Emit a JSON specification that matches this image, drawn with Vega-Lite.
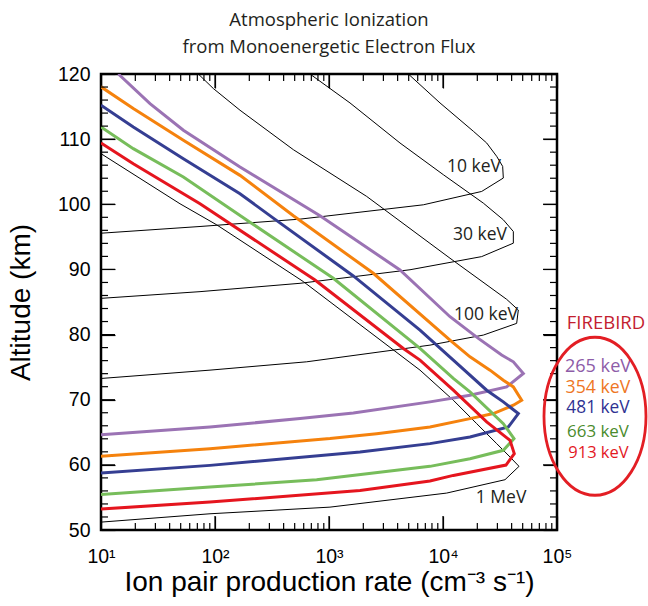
{
  "$schema": "https://vega.github.io/schema/vega-lite/v6.json",
  "width": 456,
  "height": 456,
  "autosize": {"type": "none"},
  "padding": {"left": 101, "top": 74, "right": 91, "bottom": 76},
  "background": "white",
  "title": {
    "text": ["Atmospheric Ionization", "from Monoenergetic Electron Flux"],
    "font": "Open Sans",
    "fontSize": 18.5,
    "fontWeight": "normal",
    "color": "#231f20",
    "anchor": "middle",
    "frame": "group",
    "lineHeight": 27,
    "baseline": "bottom",
    "offset": -11
  },
  "config": {
    "view": {"stroke": "black", "strokeWidth": 2.5},
    "axis": {"domain": false, "grid": false, "ticks": true, "tickColor": "black", "tickOpacity": 1, "tickWidth": 1.2, "labelFlush": false, "labelOverlap": false},
    "tick": {"color": "black", "thickness": 1.2, "opacity": 1}
  },
  "datasets": {
    "black": [
      {"curve": "10 keV", "rate": 4965, "alt": 120},
      {"curve": "10 keV", "rate": 9410, "alt": 115.56},
      {"curve": "10 keV", "rate": 18460, "alt": 111.21},
      {"curve": "10 keV", "rate": 24160, "alt": 109.41},
      {"curve": "10 keV", "rate": 29570, "alt": 107.36},
      {"curve": "10 keV", "rate": 33370, "alt": 105.82},
      {"curve": "10 keV", "rate": 33820, "alt": 104.03},
      {"curve": "10 keV", "rate": 21840, "alt": 101.97},
      {"curve": "10 keV", "rate": 6720, "alt": 99.92},
      {"curve": "10 keV", "rate": 557, "alt": 97.72},
      {"curve": "10 keV", "rate": 73.9, "alt": 96.59},
      {"curve": "10 keV", "rate": 10, "alt": 95.56},
      {"curve": "30 keV", "rate": 681, "alt": 120},
      {"curve": "30 keV", "rate": 1528, "alt": 115.56},
      {"curve": "30 keV", "rate": 4195, "alt": 109.41},
      {"curve": "30 keV", "rate": 10070, "alt": 104.54},
      {"curve": "30 keV", "rate": 22580, "alt": 100.18},
      {"curve": "30 keV", "rate": 33820, "alt": 97.62},
      {"curve": "30 keV", "rate": 41400, "alt": 95.82},
      {"curve": "30 keV", "rate": 41400, "alt": 94.03},
      {"curve": "30 keV", "rate": 21840, "alt": 91.97},
      {"curve": "30 keV", "rate": 5135, "alt": 89.95},
      {"curve": "30 keV", "rate": 557, "alt": 87.87},
      {"curve": "30 keV", "rate": 73.9, "alt": 86.59},
      {"curve": "30 keV", "rate": 10, "alt": 85.56},
      {"curve": "100 keV", "rate": 71.4, "alt": 120},
      {"curve": "100 keV", "rate": 96.7, "alt": 117.77},
      {"curve": "100 keV", "rate": 165.7, "alt": 114.44},
      {"curve": "100 keV", "rate": 487, "alt": 108.38},
      {"curve": "100 keV", "rate": 2140, "alt": 101.21},
      {"curve": "100 keV", "rate": 11520, "alt": 91.72},
      {"curve": "100 keV", "rate": 21120, "alt": 88.38},
      {"curve": "100 keV", "rate": 36180, "alt": 85.41},
      {"curve": "100 keV", "rate": 45790, "alt": 83.77},
      {"curve": "100 keV", "rate": 44280, "alt": 81.72},
      {"curve": "100 keV", "rate": 22580, "alt": 79.92},
      {"curve": "100 keV", "rate": 7690, "alt": 78.38},
      {"curve": "100 keV", "rate": 637, "alt": 75.82},
      {"curve": "100 keV", "rate": 90.4, "alt": 74.54},
      {"curve": "100 keV", "rate": 10, "alt": 73.26},
      {"curve": "1 MeV", "rate": 10, "alt": 107.77},
      {"curve": "1 MeV", "rate": 49.3, "alt": 100.08},
      {"curve": "1 MeV", "rate": 103.4, "alt": 96.85},
      {"curve": "1 MeV", "rate": 596, "alt": 88.13},
      {"curve": "1 MeV", "rate": 3430, "alt": 78.03},
      {"curve": "1 MeV", "rate": 6285, "alt": 74.54},
      {"curve": "1 MeV", "rate": 12320, "alt": 69.92},
      {"curve": "1 MeV", "rate": 19740, "alt": 66.33},
      {"curve": "1 MeV", "rate": 29570, "alt": 63.26},
      {"curve": "1 MeV", "rate": 38700, "alt": 61.21},
      {"curve": "1 MeV", "rate": 46420, "alt": 59.77},
      {"curve": "1 MeV", "rate": 34990, "alt": 57.72},
      {"curve": "1 MeV", "rate": 10770, "alt": 55.67},
      {"curve": "1 MeV", "rate": 1020, "alt": 53.51},
      {"curve": "1 MeV", "rate": 90.4, "alt": 52.49},
      {"curve": "1 MeV", "rate": 10, "alt": 51.21}
    ],
    "firebird": [
      {"curve": "265 keV", "rate": 14.2, "alt": 120},
      {"curve": "265 keV", "rate": 26.9, "alt": 115.46},
      {"curve": "265 keV", "rate": 52.8, "alt": 111.36},
      {"curve": "265 keV", "rate": 165.7, "alt": 105.72},
      {"curve": "265 keV", "rate": 834, "alt": 98.23},
      {"curve": "265 keV", "rate": 4195, "alt": 89.92},
      {"curve": "265 keV", "rate": 11520, "alt": 82.74},
      {"curve": "265 keV", "rate": 20420, "alt": 79.41},
      {"curve": "265 keV", "rate": 32700, "alt": 76.85},
      {"curve": "265 keV", "rate": 41400, "alt": 75.82},
      {"curve": "265 keV", "rate": 50660, "alt": 74.03},
      {"curve": "265 keV", "rate": 36180, "alt": 71.97},
      {"curve": "265 keV", "rate": 17250, "alt": 70.69},
      {"curve": "265 keV", "rate": 7690, "alt": 69.67},
      {"curve": "265 keV", "rate": 1635, "alt": 67.97},
      {"curve": "265 keV", "rate": 557, "alt": 67.1},
      {"curve": "265 keV", "rate": 90.4, "alt": 65.82},
      {"curve": "265 keV", "rate": 10, "alt": 64.64},
      {"curve": "354 keV", "rate": 10, "alt": 118.03},
      {"curve": "354 keV", "rate": 19.2, "alt": 114.69},
      {"curve": "354 keV", "rate": 52.8, "alt": 109.82},
      {"curve": "354 keV", "rate": 165.7, "alt": 104.44},
      {"curve": "354 keV", "rate": 487, "alt": 98.23},
      {"curve": "354 keV", "rate": 2448, "alt": 89.41},
      {"curve": "354 keV", "rate": 11520, "alt": 79.15},
      {"curve": "354 keV", "rate": 17250, "alt": 76.59},
      {"curve": "354 keV", "rate": 25840, "alt": 74.54},
      {"curve": "354 keV", "rate": 33820, "alt": 73.0},
      {"curve": "354 keV", "rate": 41400, "alt": 71.97},
      {"curve": "354 keV", "rate": 48990, "alt": 69.92},
      {"curve": "354 keV", "rate": 41400, "alt": 69.15},
      {"curve": "354 keV", "rate": 27640, "alt": 67.87},
      {"curve": "354 keV", "rate": 17250, "alt": 67.1},
      {"curve": "354 keV", "rate": 7690, "alt": 65.82},
      {"curve": "354 keV", "rate": 2620, "alt": 64.79},
      {"curve": "354 keV", "rate": 1020, "alt": 64.03},
      {"curve": "354 keV", "rate": 90.4, "alt": 62.49},
      {"curve": "354 keV", "rate": 10, "alt": 61.31},
      {"curve": "481 keV", "rate": 10, "alt": 115.21},
      {"curve": "481 keV", "rate": 19.2, "alt": 111.87},
      {"curve": "481 keV", "rate": 52.8, "alt": 107.0},
      {"curve": "481 keV", "rate": 165.7, "alt": 101.62},
      {"curve": "481 keV", "rate": 325, "alt": 97.87},
      {"curve": "481 keV", "rate": 1635, "alt": 89.0},
      {"curve": "481 keV", "rate": 6285, "alt": 80.69},
      {"curve": "481 keV", "rate": 12320, "alt": 76.08},
      {"curve": "481 keV", "rate": 24160, "alt": 71.46},
      {"curve": "481 keV", "rate": 33820, "alt": 69.67},
      {"curve": "481 keV", "rate": 45790, "alt": 67.87},
      {"curve": "481 keV", "rate": 37420, "alt": 65.82},
      {"curve": "481 keV", "rate": 17250, "alt": 64.28},
      {"curve": "481 keV", "rate": 7690, "alt": 63.26},
      {"curve": "481 keV", "rate": 1870, "alt": 61.97},
      {"curve": "481 keV", "rate": 90.4, "alt": 59.92},
      {"curve": "481 keV", "rate": 10, "alt": 58.74},
      {"curve": "663 keV", "rate": 10, "alt": 111.87},
      {"curve": "663 keV", "rate": 19.2, "alt": 108.54},
      {"curve": "663 keV", "rate": 52.8, "alt": 104.18},
      {"curve": "663 keV", "rate": 202.8, "alt": 97.26},
      {"curve": "663 keV", "rate": 1091, "alt": 88.64},
      {"curve": "663 keV", "rate": 6285, "alt": 77.87},
      {"curve": "663 keV", "rate": 12320, "alt": 73.26},
      {"curve": "663 keV", "rate": 17250, "alt": 71.21},
      {"curve": "663 keV", "rate": 33820, "alt": 66.33},
      {"curve": "663 keV", "rate": 41960, "alt": 64.03},
      {"curve": "663 keV", "rate": 33820, "alt": 62.23},
      {"curve": "663 keV", "rate": 17250, "alt": 60.95},
      {"curve": "663 keV", "rate": 7690, "alt": 59.77},
      {"curve": "663 keV", "rate": 779, "alt": 57.72},
      {"curve": "663 keV", "rate": 90.4, "alt": 56.59},
      {"curve": "663 keV", "rate": 10, "alt": 55.46},
      {"curve": "913 keV", "rate": 10, "alt": 109.41},
      {"curve": "913 keV", "rate": 19.2, "alt": 106.23},
      {"curve": "913 keV", "rate": 73.9, "alt": 100.08},
      {"curve": "913 keV", "rate": 754, "alt": 88.38},
      {"curve": "913 keV", "rate": 4487, "alt": 77.87},
      {"curve": "913 keV", "rate": 6285, "alt": 76.08},
      {"curve": "913 keV", "rate": 12320, "alt": 71.46},
      {"curve": "913 keV", "rate": 24160, "alt": 66.59},
      {"curve": "913 keV", "rate": 38700, "alt": 63.77},
      {"curve": "913 keV", "rate": 42200, "alt": 61.72},
      {"curve": "913 keV", "rate": 35690, "alt": 59.97},
      {"curve": "913 keV", "rate": 12320, "alt": 58.38},
      {"curve": "913 keV", "rate": 7690, "alt": 57.51},
      {"curve": "913 keV", "rate": 1870, "alt": 56.08},
      {"curve": "913 keV", "rate": 90.4, "alt": 54.28},
      {"curve": "913 keV", "rate": 10, "alt": 53.21}
    ],
    "curveLabels": [
      {"label": "10 keV", "rate": 18700, "alt": 105.8},
      {"label": "30 keV", "rate": 21100, "alt": 95.3},
      {"label": "100 keV", "rate": 23800, "alt": 83.0},
      {"label": "1 MeV", "rate": 32300, "alt": 54.85}
    ],
    "legend": [
      {"label": "FIREBIRD", "rate": 269000, "alt": 81.77},
      {"label": "265 keV", "rate": 228800, "alt": 75.0},
      {"label": "354 keV", "rate": 228800, "alt": 71.77},
      {"label": "481 keV", "rate": 228800, "alt": 68.69},
      {"label": "663 keV", "rate": 228800, "alt": 65.05},
      {"label": "913 keV", "rate": 231000, "alt": 61.77}
    ],
    "ring": [
      {"name": "FIREBIRD energies", "rate": 215400, "alt": 67.46}
    ],
    "xMajorTicks": [
      {"rate": 100, "alt": 50}, {"rate": 1000, "alt": 50}, {"rate": 10000, "alt": 50},
      {"rate": 100, "alt": 120}, {"rate": 1000, "alt": 120}, {"rate": 10000, "alt": 120}
    ],
    "xMinorTicks": [
      {"rate": 20, "alt": 50}, {"rate": 30, "alt": 50}, {"rate": 40, "alt": 50}, {"rate": 50, "alt": 50}, {"rate": 60, "alt": 50}, {"rate": 70, "alt": 50}, {"rate": 80, "alt": 50}, {"rate": 90, "alt": 50},
      {"rate": 200, "alt": 50}, {"rate": 300, "alt": 50}, {"rate": 400, "alt": 50}, {"rate": 500, "alt": 50}, {"rate": 600, "alt": 50}, {"rate": 700, "alt": 50}, {"rate": 800, "alt": 50}, {"rate": 900, "alt": 50},
      {"rate": 2000, "alt": 50}, {"rate": 3000, "alt": 50}, {"rate": 4000, "alt": 50}, {"rate": 5000, "alt": 50}, {"rate": 6000, "alt": 50}, {"rate": 7000, "alt": 50}, {"rate": 8000, "alt": 50}, {"rate": 9000, "alt": 50},
      {"rate": 20000, "alt": 50}, {"rate": 30000, "alt": 50}, {"rate": 40000, "alt": 50}, {"rate": 50000, "alt": 50}, {"rate": 60000, "alt": 50}, {"rate": 70000, "alt": 50}, {"rate": 80000, "alt": 50}, {"rate": 90000, "alt": 50},
      {"rate": 20, "alt": 120}, {"rate": 30, "alt": 120}, {"rate": 40, "alt": 120}, {"rate": 50, "alt": 120}, {"rate": 60, "alt": 120}, {"rate": 70, "alt": 120}, {"rate": 80, "alt": 120}, {"rate": 90, "alt": 120},
      {"rate": 200, "alt": 120}, {"rate": 300, "alt": 120}, {"rate": 400, "alt": 120}, {"rate": 500, "alt": 120}, {"rate": 600, "alt": 120}, {"rate": 700, "alt": 120}, {"rate": 800, "alt": 120}, {"rate": 900, "alt": 120},
      {"rate": 2000, "alt": 120}, {"rate": 3000, "alt": 120}, {"rate": 4000, "alt": 120}, {"rate": 5000, "alt": 120}, {"rate": 6000, "alt": 120}, {"rate": 7000, "alt": 120}, {"rate": 8000, "alt": 120}, {"rate": 9000, "alt": 120},
      {"rate": 20000, "alt": 120}, {"rate": 30000, "alt": 120}, {"rate": 40000, "alt": 120}, {"rate": 50000, "alt": 120}, {"rate": 60000, "alt": 120}, {"rate": 70000, "alt": 120}, {"rate": 80000, "alt": 120}, {"rate": 90000, "alt": 120}
    ],
    "yMajorTicks": [
      {"rate": 10, "alt": 60}, {"rate": 10, "alt": 70}, {"rate": 10, "alt": 80}, {"rate": 10, "alt": 90}, {"rate": 10, "alt": 100}, {"rate": 10, "alt": 110},
      {"rate": 100000, "alt": 60}, {"rate": 100000, "alt": 70}, {"rate": 100000, "alt": 80}, {"rate": 100000, "alt": 90}, {"rate": 100000, "alt": 100}, {"rate": 100000, "alt": 110}
    ],
    "yMinorTicks": [
      {"rate": 10, "alt": 52}, {"rate": 10, "alt": 54}, {"rate": 10, "alt": 56}, {"rate": 10, "alt": 58}, {"rate": 10, "alt": 62}, {"rate": 10, "alt": 64}, {"rate": 10, "alt": 66}, {"rate": 10, "alt": 68},
      {"rate": 10, "alt": 72}, {"rate": 10, "alt": 74}, {"rate": 10, "alt": 76}, {"rate": 10, "alt": 78}, {"rate": 10, "alt": 82}, {"rate": 10, "alt": 84}, {"rate": 10, "alt": 86}, {"rate": 10, "alt": 88},
      {"rate": 10, "alt": 92}, {"rate": 10, "alt": 94}, {"rate": 10, "alt": 96}, {"rate": 10, "alt": 98}, {"rate": 10, "alt": 102}, {"rate": 10, "alt": 104}, {"rate": 10, "alt": 106}, {"rate": 10, "alt": 108},
      {"rate": 10, "alt": 112}, {"rate": 10, "alt": 114}, {"rate": 10, "alt": 116}, {"rate": 10, "alt": 118},
      {"rate": 100000, "alt": 52}, {"rate": 100000, "alt": 54}, {"rate": 100000, "alt": 56}, {"rate": 100000, "alt": 58}, {"rate": 100000, "alt": 62}, {"rate": 100000, "alt": 64}, {"rate": 100000, "alt": 66}, {"rate": 100000, "alt": 68},
      {"rate": 100000, "alt": 72}, {"rate": 100000, "alt": 74}, {"rate": 100000, "alt": 76}, {"rate": 100000, "alt": 78}, {"rate": 100000, "alt": 82}, {"rate": 100000, "alt": 84}, {"rate": 100000, "alt": 86}, {"rate": 100000, "alt": 88},
      {"rate": 100000, "alt": 92}, {"rate": 100000, "alt": 94}, {"rate": 100000, "alt": 96}, {"rate": 100000, "alt": 98}, {"rate": 100000, "alt": 102}, {"rate": 100000, "alt": 104}, {"rate": 100000, "alt": 106}, {"rate": 100000, "alt": 108},
      {"rate": 100000, "alt": 112}, {"rate": 100000, "alt": 114}, {"rate": 100000, "alt": 116}, {"rate": 100000, "alt": 118}
    ]
  },
  "resolve": {"axis": {"x": "independent", "y": "independent"}, "scale": {"color": "independent", "size": "independent"}},
  "layer": [
    {
      "data": {"name": "black"},
      "mark": {"type": "line", "color": "black", "strokeWidth": 1, "clip": true},
      "encoding": {
        "x": {
          "field": "rate", "type": "quantitative",
          "scale": {"type": "log", "domain": [10, 100000], "nice": false},
          "axis": {
            "orient": "bottom",
            "offset": -14,
            "values": [10, 100, 1000, 10000, 100000],
            "tickSize": 14,
            "labelExpr": "'10' + ['⁰','¹','²','³','⁴','⁵'][round(log(datum.value)/LN10)]",
            "labelFont": "Liberation Sans",
            "labelFontSize": 19.5,
            "labelColor": "black",
            "labelPadding": 17,
            "title": "Ion pair production rate (cm⁻³ s⁻¹)",
            "titleFont": "Liberation Sans",
            "titleFontSize": 28,
            "titleFontWeight": "normal",
            "titleColor": "black",
            "titlePadding": 3
          }
        },
        "y": {
          "field": "alt", "type": "quantitative",
          "scale": {"domain": [50, 120], "nice": false, "zero": false},
          "axis": {
            "orient": "left",
            "offset": -14,
            "values": [50, 60, 70, 80, 90, 100, 110, 120],
            "tickSize": 14,
            "labelFont": "Liberation Sans",
            "labelFontSize": 19.5,
            "labelColor": "black",
            "labelPadding": 11,
            "title": "Altitude (km)",
            "titleFont": "Liberation Sans",
            "titleFontSize": 28,
            "titleFontWeight": "normal",
            "titleColor": "black",
            "titlePadding": 22
          }
        },
        "detail": {"field": "curve"},
        "order": {"field": "alt", "sort": "descending"}
      }
    },
    {
      "data": {"name": "firebird"},
      "mark": {"type": "line", "strokeWidth": 3, "clip": true},
      "encoding": {
        "x": {
          "field": "rate", "type": "quantitative",
          "scale": {"type": "log", "domain": [10, 100000], "nice": false},
          "axis": {
            "orient": "top",
            "offset": -14,
            "values": [10, 100, 1000, 10000, 100000],
            "tickSize": 14,
            "labels": false,
            "title": null
          }
        },
        "y": {
          "field": "alt", "type": "quantitative",
          "scale": {"domain": [50, 120], "nice": false, "zero": false},
          "axis": {
            "orient": "right",
            "offset": -14,
            "values": [50, 60, 70, 80, 90, 100, 110, 120],
            "tickSize": 14,
            "labels": false,
            "title": null
          }
        },
        "color": {
          "field": "curve", "type": "nominal",
          "scale": {"domain": ["265 keV", "354 keV", "481 keV", "663 keV", "913 keV"], "range": ["#9b73b4", "#f5820d", "#353e92", "#77bd5b", "#e5151e"]},
          "legend": null
        },
        "order": {"field": "alt", "sort": "descending"}
      }
    },
    {
      "data": {"name": "xMajorTicks"},
      "transform": [{"filter": "datum.alt == 50"}],
      "mark": {"type": "tick", "orient": "vertical", "size": 14, "yOffset": -7},
      "encoding": {
        "x": {"field": "rate", "type": "quantitative", "axis": null},
        "y": {"field": "alt", "type": "quantitative", "axis": null}
      }
    },
    {
      "data": {"name": "xMajorTicks"},
      "transform": [{"filter": "datum.alt == 120"}],
      "mark": {"type": "tick", "orient": "vertical", "size": 14, "yOffset": 7},
      "encoding": {
        "x": {"field": "rate", "type": "quantitative", "axis": null},
        "y": {"field": "alt", "type": "quantitative", "axis": null}
      }
    },
    {
      "data": {"name": "xMinorTicks"},
      "transform": [{"filter": "datum.alt == 50"}],
      "mark": {"type": "tick", "orient": "vertical", "size": 7, "yOffset": -3.5},
      "encoding": {
        "x": {"field": "rate", "type": "quantitative", "axis": null},
        "y": {"field": "alt", "type": "quantitative", "axis": null}
      }
    },
    {
      "data": {"name": "xMinorTicks"},
      "transform": [{"filter": "datum.alt == 120"}],
      "mark": {"type": "tick", "orient": "vertical", "size": 7, "yOffset": 3.5},
      "encoding": {
        "x": {"field": "rate", "type": "quantitative", "axis": null},
        "y": {"field": "alt", "type": "quantitative", "axis": null}
      }
    },
    {
      "data": {"name": "yMajorTicks"},
      "transform": [{"filter": "datum.rate == 10"}],
      "mark": {"type": "tick", "orient": "horizontal", "size": 14, "xOffset": 7},
      "encoding": {
        "x": {"field": "rate", "type": "quantitative", "axis": null},
        "y": {"field": "alt", "type": "quantitative", "axis": null}
      }
    },
    {
      "data": {"name": "yMajorTicks"},
      "transform": [{"filter": "datum.rate == 100000"}],
      "mark": {"type": "tick", "orient": "horizontal", "size": 14, "xOffset": -7},
      "encoding": {
        "x": {"field": "rate", "type": "quantitative", "axis": null},
        "y": {"field": "alt", "type": "quantitative", "axis": null}
      }
    },
    {
      "data": {"name": "yMinorTicks"},
      "transform": [{"filter": "datum.rate == 10"}],
      "mark": {"type": "tick", "orient": "horizontal", "size": 7, "xOffset": 3.5},
      "encoding": {
        "x": {"field": "rate", "type": "quantitative", "axis": null},
        "y": {"field": "alt", "type": "quantitative", "axis": null}
      }
    },
    {
      "data": {"name": "yMinorTicks"},
      "transform": [{"filter": "datum.rate == 100000"}],
      "mark": {"type": "tick", "orient": "horizontal", "size": 7, "xOffset": -3.5},
      "encoding": {
        "x": {"field": "rate", "type": "quantitative", "axis": null},
        "y": {"field": "alt", "type": "quantitative", "axis": null}
      }
    },
    {
      "data": {"name": "curveLabels"},
      "mark": {"type": "text", "font": "Open Sans", "fontSize": 17.5, "color": "#231f20", "align": "center", "baseline": "middle"},
      "encoding": {
        "x": {"field": "rate", "type": "quantitative", "axis": null},
        "y": {"field": "alt", "type": "quantitative", "axis": null},
        "text": {"field": "label"}
      }
    },
    {
      "data": {"name": "legend"},
      "mark": {"type": "text", "font": "Open Sans", "align": "center", "baseline": "middle"},
      "encoding": {
        "x": {"field": "rate", "type": "quantitative", "axis": null},
        "y": {"field": "alt", "type": "quantitative", "axis": null},
        "text": {"field": "label"},
        "size": {
          "field": "label", "type": "nominal",
          "scale": {"domain": ["FIREBIRD", "265 keV", "354 keV", "481 keV", "663 keV", "913 keV"], "range": [18.5, 16.5, 16.5, 16.5, 16.5, 16.5]},
          "legend": null
        },
        "color": {
          "field": "label", "type": "nominal",
          "scale": {"domain": ["FIREBIRD", "265 keV", "354 keV", "481 keV", "663 keV", "913 keV"], "range": ["#c3202f", "#8d5ca8", "#ee7623", "#2e3192", "#4a8b2c", "#e3191f"]},
          "legend": null
        }
      }
    },
    {
      "data": {"name": "ring"},
      "mark": {
        "type": "point",
        "shape": "M0,-1 C0.3566,-1 0.6456,-0.5523 0.6456,0 C0.6456,0.5523 0.3566,1 0,1 C-0.3566,1 -0.6456,0.5523 -0.6456,0 C-0.6456,-0.5523 -0.3566,-1 0,-1 Z",
        "size": 24964,
        "filled": false,
        "color": "#e31e24",
        "strokeWidth": 2.8,
        "opacity": 1
      },
      "encoding": {
        "x": {"field": "rate", "type": "quantitative", "axis": null},
        "y": {"field": "alt", "type": "quantitative", "axis": null}
      }
    }
  ]
}
